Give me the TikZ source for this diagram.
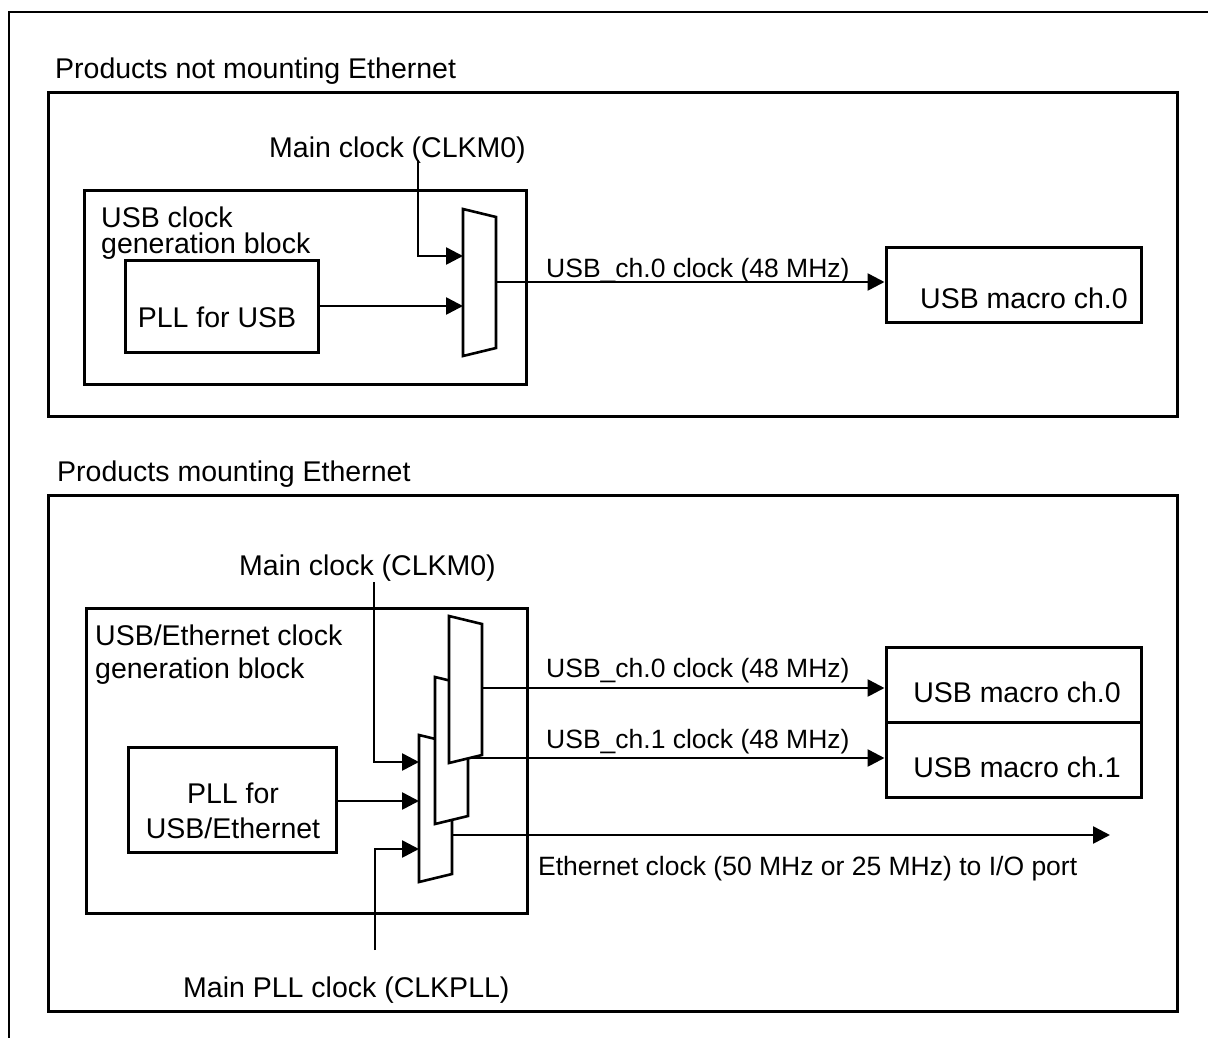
\documentclass[tikz,border=0pt]{standalone}
\usepackage{fontspec}
\setmainfont{Liberation Sans}
\usetikzlibrary{arrows.meta, positioning}

\tikzset{
  mux/.pic={\draw[muxshape] (0,0) -- (33,8) -- (33,139) -- (0,147) -- cycle;}
}

\begin{document}
\begin{tikzpicture}[x=1pt, y=-1pt,
    every node/.style={font=\fontsize{28.5}{26}\selectfont, inner sep=0pt},
    frame/.style={draw, line width=3pt},
    blk/.style={draw, line width=3pt, fill=white},
    sig/.style={line width=2.6pt, -{Triangle[length=17pt, width=17pt]}},
    muxshape/.style={draw, line width=2.6pt, fill=white},
    clklbl/.style={font=\fontsize{26.5}{26}\selectfont, anchor=base west}
  ]
  \useasboundingbox (0,0) rectangle (1208,1037);
  \draw[line width=2.4pt] (9,1040) -- (9,12) -- (1210,12);

  % products without Ethernet
  \node[anchor=base west] (titleA) at (55,78) {Products not mounting Ethernet};
  \node[frame, minimum width=1129pt, minimum height=324pt] (panelA) at (612.5,254) {};
  \node[blk, minimum width=442pt, minimum height=194pt] (genA) at (305,287) {};
  \node[anchor=north west, align=left] (genAtxt) at (101,207) {USB clock\\generation block};
  \node[blk, minimum width=193pt, minimum height=92pt] (pllA) at (221.5,306) {};
  \node[anchor=base] (pllAtxt) at (217,327) {PLL for USB};
  \node[blk, minimum width=255pt, minimum height=75pt] (macroA) at (1013.5,284.5) {};
  \node[anchor=base west] (macroAtxt) at (920,308) {USB macro ch.0};
  \node[anchor=base west] (clkmA) at (269,157) {Main clock (CLKM0)};

  \pic at (463,209) {mux};
  \coordinate (clkAtop) at (418,160);
  \coordinate (muxA-in1) at (463,256);
  \coordinate (muxA-in2) at (463,306);
  \coordinate (muxA-out) at (496,282);

  \draw[sig] (clkAtop) |- (muxA-in1);
  \draw[sig] (pllA.east) -- (muxA-in2);
  \draw[sig] (muxA-out) -- (macroA.west |- muxA-out);
  \node[clklbl] (usb0A) at (546,277) {USB\_ch.0 clock (48 MHz)};

  % products with Ethernet
  \node[anchor=base west] (titleB) at (57,481) {Products mounting Ethernet};
  \node[frame, minimum width=1129pt, minimum height=516pt] (panelB) at (612.5,753) {};
  \node[blk, minimum width=441pt, minimum height=305pt] (genB) at (306.5,760.5) {};
  \node[anchor=north west, align=left, font=\fontsize{28.5}{33}\selectfont] (genBtxt) at (95,625) {USB/Ethernet clock\\generation block};
  \node[blk, minimum width=208pt, minimum height=105pt] (pllB) at (232,799.5) {};
  \node[anchor=north, align=center, font=\fontsize{28.5}{35}\selectfont] (pllBtxt) at (233,783) {PLL for\\USB/Ethernet};
  \node[blk, minimum width=255pt, minimum height=75pt] (macroB0) at (1013.5,684.5) {};
  \node[blk, minimum width=255pt, minimum height=75pt] (macroB1) at (1013.5,759.5) {};
  \node[anchor=base] (macroB0txt) at (1017,702) {USB macro ch.0};
  \node[anchor=base] (macroB1txt) at (1017,777) {USB macro ch.1};
  \node[anchor=base west] (clkmB) at (239,575) {Main clock (CLKM0)};
  \node[anchor=base west] (clkpllB) at (183,997) {Main PLL clock (CLKPLL)};

  \pic at (419,735) {mux};
  \pic at (435,677) {mux};
  \pic at (449,616) {mux};
  \coordinate (clkBtop) at (374,582);
  \coordinate (clkpllBot) at (375,950);
  \coordinate (muxC-in1) at (419,762);
  \coordinate (muxC-in2) at (419,801);
  \coordinate (muxC-in3) at (419,849);
  \coordinate (muxA0-out) at (481,688);
  \coordinate (muxB1-out) at (468,758);
  \coordinate (muxC-out) at (452,835);
  \coordinate (ethEnd) at (1110,835);

  \draw[sig] (clkBtop) |- (muxC-in1);
  \draw[sig] (pllB.east |- muxC-in2) -- (muxC-in2);
  \draw[sig] (clkpllBot) |- (muxC-in3);
  \draw[sig] (muxA0-out) -- (macroB0.west |- muxA0-out);
  \draw[sig] (muxB1-out) -- (macroB1.west |- muxB1-out);
  \draw[sig] (muxC-out) -- (ethEnd);
  \node[clklbl] (usb0B) at (546,677) {USB\_ch.0 clock (48 MHz)};
  \node[clklbl] (usb1B) at (546,748) {USB\_ch.1 clock (48 MHz)};
  \node[clklbl] (ethB) at (538,875) {Ethernet clock (50 MHz or 25 MHz) to I/O port};
\end{tikzpicture}
\end{document}
